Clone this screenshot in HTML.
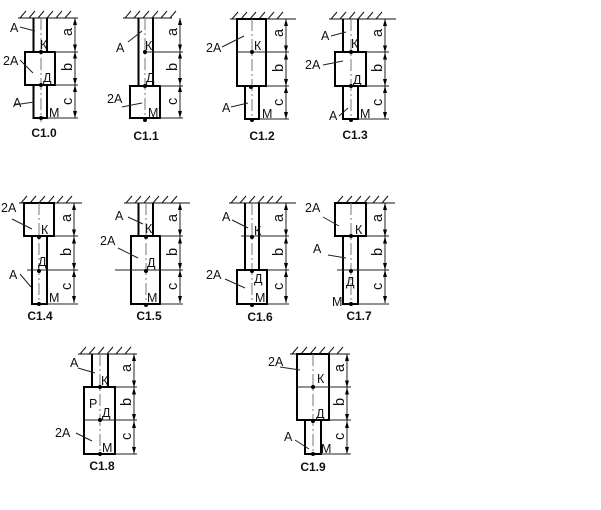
<!DOCTYPE html>
<html><head><meta charset="utf-8"><style>
html,body{margin:0;padding:0;background:#fff}
svg{display:block;filter:blur(0.35px)}
text{font-family:"Liberation Sans",sans-serif;font-size:12.5px;fill:#111}
text[transform]{font-size:14.5px}
text.t{font-weight:bold;font-size:12px;text-anchor:middle}
.b{fill:none;stroke:#000;stroke-width:2}
.w{fill:none;stroke:#111;stroke-width:1}
.x{fill:none;stroke:#222;stroke-width:1}
.ax{fill:none;stroke:#777;stroke-width:1;stroke-dasharray:12 3 2 3}
</style></head><body>
<svg width="601" height="510" viewBox="0 0 601 510" xmlns="http://www.w3.org/2000/svg">
<defs>
<g id="h" class="w"><path d="M0 6l6-7M9 6l6-7M18 6l6-7M27 6l6-7M36 6l6-7M45 6l6-7"/></g>
<path id="ah" d="M-2 -7L2 -7L0 0Z M-2 7L2 7L0 0Z" fill="#000"/>
<g id="d">
<path d="M0 0V100" class="x"/>
<path d="M-2 7L2 7L0 0Z" fill="#000"/>
<use href="#ah" y="33.5"/><use href="#ah" y="67"/>
<path d="M-2 93L2 93L0 100Z" fill="#000"/>
</g>
</defs>
<rect width="601" height="510" fill="#fff"/>

<!-- C1.0 -->
<use href="#h" x="20" y="12"/><path class="w" d="M18 18H78"/>
<path class="b" d="M33.500 18V52M47 18V52M25 52H55V85H25ZM33.500 85V118H47V85"/>
<path class="ax" d="M41 18V122"/>
<path class="x" d="M55 52H78M55 85H78M47 118H78M20 27L35 31M20 60L33 73M14 105L34 102"/>
<use href="#d" x="75" y="18"/>
<circle cx="41" cy="52" r="2" fill="#000"/><circle cx="41" cy="85" r="2" fill="#000"/><circle cx="41" cy="118" r="2" fill="#000"/>
<text x="10" y="32">А</text><text x="3" y="65">2А</text><text x="13" y="107">А</text>
<text x="40" y="49">К</text><text x="43" y="82">Д</text><text x="49" y="117">М</text>
<text transform="translate(72 36) rotate(-90)">a</text><text transform="translate(72 71) rotate(-90)">b</text><text transform="translate(72 105) rotate(-90)">c</text>
<text class="t" x="44" y="137">С1.0</text>

<!-- C1.1 -->
<use href="#h" x="125" y="12"/><path class="w" d="M123 18H172"/>
<path class="b" d="M138.500 18V86M153 18V86M130 86H160V118H130Z"/>
<path class="ax" d="M145 18V122"/>
<path class="x" d="M145 52H183M160 86H183M160 118H183M128 42L142 31M122 107L142 103"/>
<use href="#d" x="180" y="18"/>
<circle cx="145" cy="52" r="2" fill="#000"/><circle cx="145" cy="86" r="2" fill="#000"/><circle cx="145" cy="120" r="2" fill="#000"/>
<text x="116" y="52">А</text><text x="107" y="103">2А</text>
<text x="145" y="50">К</text><text x="146" y="82">Д</text><text x="148" y="117">М</text>
<text transform="translate(177 36) rotate(-90)">a</text><text transform="translate(177 71) rotate(-90)">b</text><text transform="translate(177 105) rotate(-90)">c</text>
<text class="t" x="146" y="140">С1.1</text>

<!-- C1.2 -->
<use href="#h" x="232" y="13"/><path class="w" d="M230 19H296"/>
<path class="b" d="M237 19H266V86H237ZM245 86V119H259V86"/>
<path class="ax" d="M252 19V122"/>
<path class="x" d="M237 52H289M266 86H289M259 119H289M222 47L244 36M231 107L248 103"/>
<use href="#d" x="286" y="19"/>
<circle cx="252" cy="52" r="2" fill="#000"/><circle cx="251" cy="87" r="2" fill="#000"/><circle cx="252" cy="120" r="2" fill="#000"/>
<text x="206" y="52">2А</text><text x="222" y="112">А</text>
<text x="254" y="50">К</text><text x="262" y="118">М</text>
<text transform="translate(283 37) rotate(-90)">a</text><text transform="translate(283 72) rotate(-90)">b</text><text transform="translate(283 106) rotate(-90)">c</text>
<text class="t" x="262" y="140">С1.2</text>

<!-- C1.3 -->
<use href="#h" x="331" y="13"/><path class="w" d="M329 19H396"/>
<path class="b" d="M343 19V52M358 19V52M335 52H366V86H335ZM343 86V119H358V86"/>
<path class="ax" d="M351 19V122"/>
<path class="x" d="M366 52H389M366 86H389M358 119H389M331 36L346 32M323 65L343 61M339 116L348 108"/>
<use href="#d" x="385" y="19"/>
<circle cx="351" cy="52" r="2" fill="#000"/><circle cx="351" cy="86" r="2" fill="#000"/><circle cx="351" cy="120" r="2" fill="#000"/>
<text x="321" y="40">А</text><text x="305" y="69">2А</text><text x="329" y="120">А</text>
<text x="351" y="48">К</text><text x="353" y="84">Д</text><text x="360" y="118">М</text>
<text transform="translate(382 37) rotate(-90)">a</text><text transform="translate(382 72) rotate(-90)">b</text><text transform="translate(382 106) rotate(-90)">c</text>
<text class="t" x="355" y="139">С1.3</text>

<!-- C1.4 -->
<use href="#h" x="21" y="197"/><path class="w" d="M19 203H82"/>
<path class="b" d="M24 203H54V236H24ZM32 236V304H47V236"/>
<path class="ax" d="M39 203V306"/>
<path class="x" d="M54 236H78M27 270H78M47 304H78M12 219L32 229M20 274L31 287"/>
<use href="#d" x="74" y="203"/>
<circle cx="39" cy="237" r="2" fill="#000"/><circle cx="39" cy="271" r="2" fill="#000"/><circle cx="39" cy="304" r="2" fill="#000"/>
<text x="1" y="212">2А</text><text x="9" y="279">А</text>
<text x="41" y="234">К</text><text x="38" y="266">Д</text><text x="49" y="302">М</text>
<text transform="translate(71 222) rotate(-90)">a</text><text transform="translate(71 256) rotate(-90)">b</text><text transform="translate(71 290) rotate(-90)">c</text>
<text class="t" x="40" y="320">С1.4</text>

<!-- C1.5 -->
<use href="#h" x="126" y="197"/><path class="w" d="M124 203H190"/>
<path class="b" d="M138.500 203V236M153 203V236M131 236H160V304H131Z"/>
<path class="ax" d="M146 203V306"/>
<path class="x" d="M160 236H183M115 270H183M160 304H183M128 217L143 224M118 248L138 258"/>
<use href="#d" x="180" y="203"/>
<circle cx="146" cy="237" r="2" fill="#000"/><circle cx="146" cy="271" r="2" fill="#000"/><circle cx="146" cy="305" r="2" fill="#000"/>
<text x="115" y="220">А</text><text x="100" y="245">2А</text>
<text x="145" y="233">К</text><text x="147" y="267">Д</text><text x="147" y="302">М</text>
<text transform="translate(177 222) rotate(-90)">a</text><text transform="translate(177 256) rotate(-90)">b</text><text transform="translate(177 290) rotate(-90)">c</text>
<text class="t" x="149" y="320">С1.5</text>

<!-- C1.6 -->
<use href="#h" x="231" y="197"/><path class="w" d="M229 203H296"/>
<path class="b" d="M245 203V270M259 203V270M237 270H267V304H237Z"/>
<path class="ax" d="M252 203V306"/>
<path class="x" d="M241 236H289M267 270H289M267 304H289M232 220L248 228M225 279L245 288"/>
<use href="#d" x="286" y="203"/>
<circle cx="252" cy="237" r="2" fill="#000"/><circle cx="252" cy="271" r="2" fill="#000"/><circle cx="252" cy="305" r="2" fill="#000"/>
<text x="222" y="221">А</text><text x="206" y="279">2А</text>
<text x="254" y="235">К</text><text x="254" y="283">Д</text><text x="255" y="302">М</text>
<text transform="translate(283 222) rotate(-90)">a</text><text transform="translate(283 256) rotate(-90)">b</text><text transform="translate(283 290) rotate(-90)">c</text>
<text class="t" x="260" y="321">С1.6</text>

<!-- C1.7 -->
<use href="#h" x="337" y="197"/><path class="w" d="M335 203H395"/>
<path class="b" d="M335 203H366V236H335ZM343 236V304H358V236"/>
<path class="ax" d="M351 203V306"/>
<path class="x" d="M366 236H389M337 270H389M358 304H389M323 217L339 226M328 255L346 258"/>
<use href="#d" x="385" y="203"/>
<circle cx="351" cy="236" r="2" fill="#000"/><circle cx="351" cy="271" r="2" fill="#000"/><circle cx="351" cy="304" r="2" fill="#000"/>
<text x="305" y="212">2А</text><text x="313" y="253">А</text>
<text x="355" y="234">К</text><text x="346" y="286">Д</text><text x="332" y="306">М</text>
<text transform="translate(382 222) rotate(-90)">a</text><text transform="translate(382 256) rotate(-90)">b</text><text transform="translate(382 290) rotate(-90)">c</text>
<text class="t" x="359" y="320">С1.7</text>

<!-- C1.8 -->
<use href="#h" x="80" y="348"/><path class="w" d="M78 354H137"/>
<path class="b" d="M92 354V387M108 354V387M84 387H115V454H84Z"/>
<path class="ax" d="M100 354V456"/>
<path class="x" d="M115 387H137M84 420H137M115 454H137M78 368L95 373M76 433L92 441"/>
<use href="#d" x="134" y="354"/>
<circle cx="100" cy="387" r="2" fill="#000"/><circle cx="100" cy="420" r="2" fill="#000"/><circle cx="100" cy="454" r="2" fill="#000"/>
<text x="70" y="367">А</text><text x="55" y="437">2А</text><text x="89" y="408">Р</text>
<text x="101" y="385">К</text><text x="102" y="417">Д</text><text x="102" y="452">М</text>
<text transform="translate(131 372) rotate(-90)">a</text><text transform="translate(131 406) rotate(-90)">b</text><text transform="translate(131 440) rotate(-90)">c</text>
<text class="t" x="102" y="470">С1.8</text>

<!-- C1.9 -->
<use href="#h" x="292" y="348"/><path class="w" d="M290 354H350"/>
<path class="b" d="M297 354H329V420H297ZM305 420V454H321V420"/>
<path class="ax" d="M313 354V456"/>
<path class="x" d="M297 387H351M329 420H351M321 454H351M280 367L300 370M295 440L309 449"/>
<use href="#d" x="347" y="354"/>
<circle cx="313" cy="387" r="2" fill="#000"/><circle cx="313" cy="421" r="2" fill="#000"/><circle cx="313" cy="454" r="2" fill="#000"/>
<text x="268" y="366">2А</text><text x="284" y="441">А</text>
<text x="317" y="383">К</text><text x="316" y="418">Д</text><text x="321" y="453">М</text>
<text transform="translate(344 372) rotate(-90)">a</text><text transform="translate(344 406) rotate(-90)">b</text><text transform="translate(344 440) rotate(-90)">c</text>
<text class="t" x="313" y="471">С1.9</text>
</svg>
</body></html>
